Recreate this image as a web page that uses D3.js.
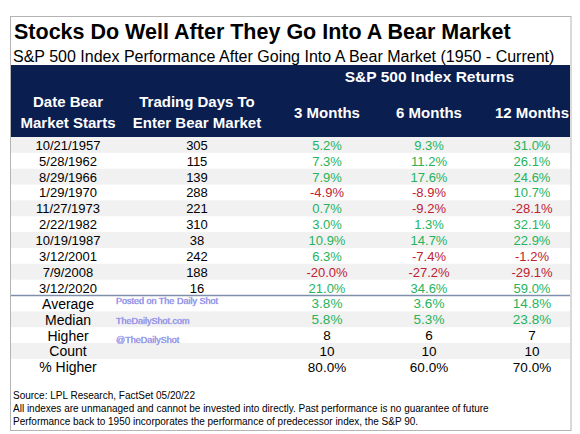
<!DOCTYPE html>
<html>
<head>
<meta charset="utf-8">
<script src="https://cdn.jsdelivr.net/npm/d3@7"></script>
<style>
  body { margin: 0; background: #fff; }
  svg { display: block; font-family: "Liberation Sans", Arial, sans-serif; }
</style>
</head>
<body>
<div id="chart"></div>
<script>
// table values
var dates = ["10/21/1957", "5/28/1962", "8/29/1966", "1/29/1970", "11/27/1973",
             "2/22/1982", "10/19/1987", "3/12/2001", "7/9/2008", "3/12/2020"];
var tradingDays = [305, 115, 139, 288, 221, 310, 38, 242, 188, 16];
var ret3m = [5.2, 7.3, 7.9, -4.9, 0.7, 3.0, 10.9, 6.3, -20.0, 21.0];
var ret6m = [9.3, 11.2, 17.6, -8.9, -9.2, 1.3, 14.7, -7.4, -27.2, 34.6];
var ret12m = [31.0, 26.1, 24.6, 10.7, -28.1, 32.1, 22.9, -1.2, -29.1, 59.0];

var summaryLabels = ["Average", "Median", "Higher", "Count", "% Higher"];
var summary3m = [3.8, 5.8, 8, 10, 80.0];
var summary6m = [3.6, 5.3, 6, 10, 60.0];
var summary12m = [14.8, 23.8, 7, 10, 70.0];
var summaryKind = ["pct", "pct", "int", "int", "plain"];

var columnKeys = ["date", "days", "m3", "m6", "m12"];
var headerLines = [["Date Bear", "Market Starts"], ["Trading Days To", "Enter Bear Market"],
                   ["3 Months"], ["6 Months"], ["12 Months"]];

var title = "Stocks Do Well After They Go Into A Bear Market";
var subtitle = "S&P 500 Index Performance After Going Into A Bear Market (1950 - Current)";
var groupTitle = "S&P 500 Index Returns";
var footnotes = ["Source: LPL Research, FactSet 05/20/22",
  "All indexes are unmanaged and cannot be invested into directly. Past performance is no guarantee of future",
  "Performance back to 1950 incorporates the performance of predecessor index, the S&P 90."];
var watermark = ["Posted on The Daily Shot", "TheDailyShot.com", "@TheDailyShot"];

var width = 580, height = 434;
var navy = "#0a1e50", stripe = "#f1f1f1", green = "#26b35b", red = "#be2131";
var left = 11, right = 570;

var svg = d3.select("#chart").append("svg")
    .attr("width", width)
    .attr("height", height);

// column centres
var x = d3.scaleOrdinal()
    .domain(columnKeys)
    .range([68, 197, 327, 429, 532]);

// one band per body row (10 data rows + 5 summary rows)
var rowIds = d3.range(dates.length + summaryLabels.length);
var y = d3.scaleBand()
    .domain(rowIds)
    .range([137, 137 + rowIds.length * 15.85]);

// outer frame
svg.append("rect")
    .attr("x", 10.5).attr("y", 16.5)
    .attr("width", right - 10 + 0.5).attr("height", 414)
    .attr("fill", "none")
    .attr("stroke", "#b4b4b4");

svg.append("text")
    .attr("x", 14).attr("y", 39)
    .attr("font-size", 21.5).attr("font-weight", "bold")
    .attr("fill", "#000")
    .text(title);

svg.append("text")
    .attr("x", 13).attr("y", 61.5)
    .attr("font-size", 16)
    .attr("fill", "#000")
    .text(subtitle);

// header block
svg.append("rect")
    .attr("x", left).attr("y", 65)
    .attr("width", right - left).attr("height", 72)
    .attr("fill", navy);

var header = svg.append("g")
    .attr("fill", "#fff")
    .attr("font-weight", "bold")
    .attr("font-size", 15)
    .attr("text-anchor", "middle");

header.append("text")
    .attr("x", (x("m3") + x("m12")) / 2).attr("y", 82)
    .attr("font-size", 15.5)
    .text(groupTitle);

header.selectAll(".col-head")
    .data(columnKeys)
    .join("text")
    .attr("class", "col-head")
    .attr("x", d => x(d))
    .attr("y", (d, i) => headerLines[i].length > 1 ? 106.5 : 118)
    .selectAll("tspan")
    .data((d, i) => headerLines[i])
    .join("tspan")
    .attr("x", function() { return this.parentNode.getAttribute("x"); })
    .attr("dy", (d, j) => j === 0 ? 0 : 21)
    .text(d => d);

// stripes: odd data rows grey, then summary rows alternate white/grey
svg.selectAll(".stripe")
    .data(rowIds.filter(i => i < dates.length ? i % 2 === 0 : (i - dates.length) % 2 === 1))
    .join("rect")
    .attr("class", "stripe")
    .attr("x", left)
    .attr("y", d => y(d))
    .attr("width", right - left)
    .attr("height", y.bandwidth())
    .attr("fill", stripe);

var fmtPct = v => v.toFixed(1) + "%";
var colorOf = v => v < 0 ? red : green;

var body = svg.append("g")
    .attr("font-size", 13)
    .attr("text-anchor", "middle")
    .attr("dominant-baseline", "central");

var dataRows = dates.map((d, i) => ({
    i: i,
    cells: [
        { key: "date", text: d, color: "#000" },
        { key: "days", text: String(tradingDays[i]), color: "#000" },
        { key: "m3", text: fmtPct(ret3m[i]), color: colorOf(ret3m[i]) },
        { key: "m6", text: fmtPct(ret6m[i]), color: colorOf(ret6m[i]) },
        { key: "m12", text: fmtPct(ret12m[i]), color: colorOf(ret12m[i]) }
    ]
}));

var summaryRows = summaryLabels.map((label, k) => {
    var vals = [summary3m[k], summary6m[k], summary12m[k]];
    var kind = summaryKind[k];
    return {
        i: dates.length + k,
        cells: [{ key: "date", text: label, color: "#000", size: 14 }].concat(
            ["m3", "m6", "m12"].map((key, c) => ({
                key: key,
                text: kind === "int" ? String(vals[c]) : fmtPct(vals[c]),
                color: kind === "pct" ? colorOf(vals[c]) : "#000",
                size: 13.5
            })))
    };
});

body.selectAll(".row")
    .data(dataRows.concat(summaryRows))
    .join("g")
    .attr("class", "row")
    .attr("transform", d => `translate(0, ${y(d.i) + y.bandwidth() / 2 + 0.5})`)
    .selectAll("text")
    .data(d => d.cells)
    .join("text")
    .attr("x", d => x(d.key))
    .attr("font-size", d => d.size || null)
    .attr("fill", d => d.color)
    .text(d => d.text);

// separator between the data rows and the summary
svg.append("line")
    .attr("x1", left).attr("x2", right)
    .attr("y1", y(dates.length)).attr("y2", y(dates.length))
    .attr("stroke", "#7f8fab")
    .attr("stroke-width", 1.5);

// watermark
svg.append("g")
    .attr("font-size", 9)
    .attr("fill", "#3434d6")
    .attr("stroke", "#b4b4ee")
    .attr("stroke-width", 0.45)
    .selectAll("text")
    .data(watermark)
    .join("text")
    .attr("x", 116)
    .attr("y", (d, i) => [304, 324, 343][i])
    .text(d => d);

svg.append("g")
    .attr("font-size", 10)
    .attr("fill", "#000")
    .selectAll("text")
    .data(footnotes)
    .join("text")
    .attr("x", 13)
    .attr("y", (d, i) => 399 + i * 12.8)
    .text(d => d);
</script>
</body>
</html>
